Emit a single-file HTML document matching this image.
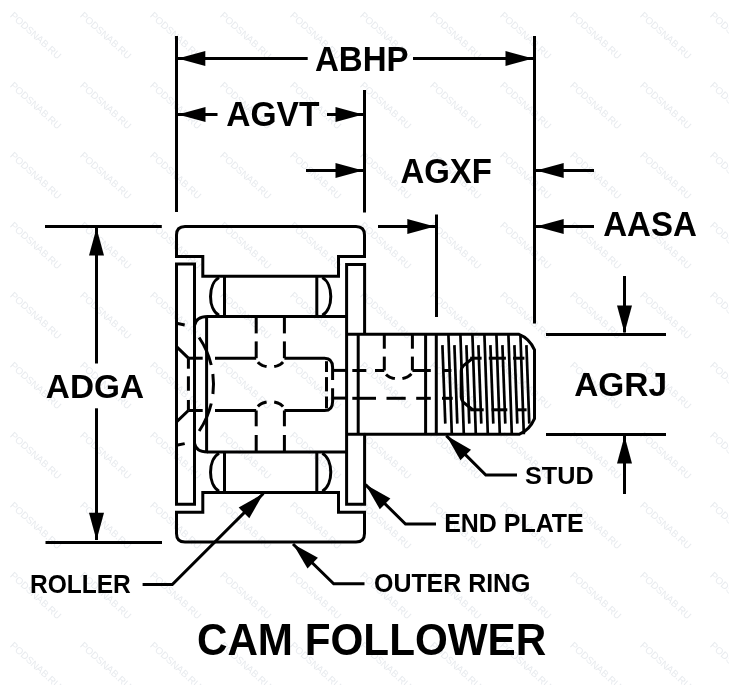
<!DOCTYPE html>
<html><head><meta charset="utf-8"><style>
html,body{margin:0;padding:0;background:#fff;}
svg{display:block;will-change:transform;}
text{font-family:"Liberation Sans",sans-serif;}
</style></head><body>
<svg width="729" height="685" viewBox="0 0 729 685">
<rect width="729" height="685" fill="#fff"/>
<g fill="#e7eaee" font-size="9.8" font-family="Liberation Sans"><text x="0" y="0" transform="translate(-60.6,-53.7) rotate(42)">PODSNAB.RU</text><text x="0" y="0" transform="translate(-60.6,16.3) rotate(42)">PODSNAB.RU</text><text x="0" y="0" transform="translate(-60.6,86.3) rotate(42)">PODSNAB.RU</text><text x="0" y="0" transform="translate(-60.6,156.3) rotate(42)">PODSNAB.RU</text><text x="0" y="0" transform="translate(-60.6,226.3) rotate(42)">PODSNAB.RU</text><text x="0" y="0" transform="translate(-60.6,296.3) rotate(42)">PODSNAB.RU</text><text x="0" y="0" transform="translate(-60.6,366.3) rotate(42)">PODSNAB.RU</text><text x="0" y="0" transform="translate(-60.6,436.3) rotate(42)">PODSNAB.RU</text><text x="0" y="0" transform="translate(-60.6,506.3) rotate(42)">PODSNAB.RU</text><text x="0" y="0" transform="translate(-60.6,576.3) rotate(42)">PODSNAB.RU</text><text x="0" y="0" transform="translate(-60.6,646.3) rotate(42)">PODSNAB.RU</text><text x="0" y="0" transform="translate(-60.6,716.3) rotate(42)">PODSNAB.RU</text><text x="0" y="0" transform="translate(9.4,-53.7) rotate(42)">PODSNAB.RU</text><text x="0" y="0" transform="translate(9.4,16.3) rotate(42)">PODSNAB.RU</text><text x="0" y="0" transform="translate(9.4,86.3) rotate(42)">PODSNAB.RU</text><text x="0" y="0" transform="translate(9.4,156.3) rotate(42)">PODSNAB.RU</text><text x="0" y="0" transform="translate(9.4,226.3) rotate(42)">PODSNAB.RU</text><text x="0" y="0" transform="translate(9.4,296.3) rotate(42)">PODSNAB.RU</text><text x="0" y="0" transform="translate(9.4,366.3) rotate(42)">PODSNAB.RU</text><text x="0" y="0" transform="translate(9.4,436.3) rotate(42)">PODSNAB.RU</text><text x="0" y="0" transform="translate(9.4,506.3) rotate(42)">PODSNAB.RU</text><text x="0" y="0" transform="translate(9.4,576.3) rotate(42)">PODSNAB.RU</text><text x="0" y="0" transform="translate(9.4,646.3) rotate(42)">PODSNAB.RU</text><text x="0" y="0" transform="translate(9.4,716.3) rotate(42)">PODSNAB.RU</text><text x="0" y="0" transform="translate(79.4,-53.7) rotate(42)">PODSNAB.RU</text><text x="0" y="0" transform="translate(79.4,16.3) rotate(42)">PODSNAB.RU</text><text x="0" y="0" transform="translate(79.4,86.3) rotate(42)">PODSNAB.RU</text><text x="0" y="0" transform="translate(79.4,156.3) rotate(42)">PODSNAB.RU</text><text x="0" y="0" transform="translate(79.4,226.3) rotate(42)">PODSNAB.RU</text><text x="0" y="0" transform="translate(79.4,296.3) rotate(42)">PODSNAB.RU</text><text x="0" y="0" transform="translate(79.4,366.3) rotate(42)">PODSNAB.RU</text><text x="0" y="0" transform="translate(79.4,436.3) rotate(42)">PODSNAB.RU</text><text x="0" y="0" transform="translate(79.4,506.3) rotate(42)">PODSNAB.RU</text><text x="0" y="0" transform="translate(79.4,576.3) rotate(42)">PODSNAB.RU</text><text x="0" y="0" transform="translate(79.4,646.3) rotate(42)">PODSNAB.RU</text><text x="0" y="0" transform="translate(79.4,716.3) rotate(42)">PODSNAB.RU</text><text x="0" y="0" transform="translate(149.4,-53.7) rotate(42)">PODSNAB.RU</text><text x="0" y="0" transform="translate(149.4,16.3) rotate(42)">PODSNAB.RU</text><text x="0" y="0" transform="translate(149.4,86.3) rotate(42)">PODSNAB.RU</text><text x="0" y="0" transform="translate(149.4,156.3) rotate(42)">PODSNAB.RU</text><text x="0" y="0" transform="translate(149.4,226.3) rotate(42)">PODSNAB.RU</text><text x="0" y="0" transform="translate(149.4,296.3) rotate(42)">PODSNAB.RU</text><text x="0" y="0" transform="translate(149.4,366.3) rotate(42)">PODSNAB.RU</text><text x="0" y="0" transform="translate(149.4,436.3) rotate(42)">PODSNAB.RU</text><text x="0" y="0" transform="translate(149.4,506.3) rotate(42)">PODSNAB.RU</text><text x="0" y="0" transform="translate(149.4,576.3) rotate(42)">PODSNAB.RU</text><text x="0" y="0" transform="translate(149.4,646.3) rotate(42)">PODSNAB.RU</text><text x="0" y="0" transform="translate(149.4,716.3) rotate(42)">PODSNAB.RU</text><text x="0" y="0" transform="translate(219.4,-53.7) rotate(42)">PODSNAB.RU</text><text x="0" y="0" transform="translate(219.4,16.3) rotate(42)">PODSNAB.RU</text><text x="0" y="0" transform="translate(219.4,86.3) rotate(42)">PODSNAB.RU</text><text x="0" y="0" transform="translate(219.4,156.3) rotate(42)">PODSNAB.RU</text><text x="0" y="0" transform="translate(219.4,226.3) rotate(42)">PODSNAB.RU</text><text x="0" y="0" transform="translate(219.4,296.3) rotate(42)">PODSNAB.RU</text><text x="0" y="0" transform="translate(219.4,366.3) rotate(42)">PODSNAB.RU</text><text x="0" y="0" transform="translate(219.4,436.3) rotate(42)">PODSNAB.RU</text><text x="0" y="0" transform="translate(219.4,506.3) rotate(42)">PODSNAB.RU</text><text x="0" y="0" transform="translate(219.4,576.3) rotate(42)">PODSNAB.RU</text><text x="0" y="0" transform="translate(219.4,646.3) rotate(42)">PODSNAB.RU</text><text x="0" y="0" transform="translate(219.4,716.3) rotate(42)">PODSNAB.RU</text><text x="0" y="0" transform="translate(289.4,-53.7) rotate(42)">PODSNAB.RU</text><text x="0" y="0" transform="translate(289.4,16.3) rotate(42)">PODSNAB.RU</text><text x="0" y="0" transform="translate(289.4,86.3) rotate(42)">PODSNAB.RU</text><text x="0" y="0" transform="translate(289.4,156.3) rotate(42)">PODSNAB.RU</text><text x="0" y="0" transform="translate(289.4,226.3) rotate(42)">PODSNAB.RU</text><text x="0" y="0" transform="translate(289.4,296.3) rotate(42)">PODSNAB.RU</text><text x="0" y="0" transform="translate(289.4,366.3) rotate(42)">PODSNAB.RU</text><text x="0" y="0" transform="translate(289.4,436.3) rotate(42)">PODSNAB.RU</text><text x="0" y="0" transform="translate(289.4,506.3) rotate(42)">PODSNAB.RU</text><text x="0" y="0" transform="translate(289.4,576.3) rotate(42)">PODSNAB.RU</text><text x="0" y="0" transform="translate(289.4,646.3) rotate(42)">PODSNAB.RU</text><text x="0" y="0" transform="translate(289.4,716.3) rotate(42)">PODSNAB.RU</text><text x="0" y="0" transform="translate(359.4,-53.7) rotate(42)">PODSNAB.RU</text><text x="0" y="0" transform="translate(359.4,16.3) rotate(42)">PODSNAB.RU</text><text x="0" y="0" transform="translate(359.4,86.3) rotate(42)">PODSNAB.RU</text><text x="0" y="0" transform="translate(359.4,156.3) rotate(42)">PODSNAB.RU</text><text x="0" y="0" transform="translate(359.4,226.3) rotate(42)">PODSNAB.RU</text><text x="0" y="0" transform="translate(359.4,296.3) rotate(42)">PODSNAB.RU</text><text x="0" y="0" transform="translate(359.4,366.3) rotate(42)">PODSNAB.RU</text><text x="0" y="0" transform="translate(359.4,436.3) rotate(42)">PODSNAB.RU</text><text x="0" y="0" transform="translate(359.4,506.3) rotate(42)">PODSNAB.RU</text><text x="0" y="0" transform="translate(359.4,576.3) rotate(42)">PODSNAB.RU</text><text x="0" y="0" transform="translate(359.4,646.3) rotate(42)">PODSNAB.RU</text><text x="0" y="0" transform="translate(359.4,716.3) rotate(42)">PODSNAB.RU</text><text x="0" y="0" transform="translate(429.4,-53.7) rotate(42)">PODSNAB.RU</text><text x="0" y="0" transform="translate(429.4,16.3) rotate(42)">PODSNAB.RU</text><text x="0" y="0" transform="translate(429.4,86.3) rotate(42)">PODSNAB.RU</text><text x="0" y="0" transform="translate(429.4,156.3) rotate(42)">PODSNAB.RU</text><text x="0" y="0" transform="translate(429.4,226.3) rotate(42)">PODSNAB.RU</text><text x="0" y="0" transform="translate(429.4,296.3) rotate(42)">PODSNAB.RU</text><text x="0" y="0" transform="translate(429.4,366.3) rotate(42)">PODSNAB.RU</text><text x="0" y="0" transform="translate(429.4,436.3) rotate(42)">PODSNAB.RU</text><text x="0" y="0" transform="translate(429.4,506.3) rotate(42)">PODSNAB.RU</text><text x="0" y="0" transform="translate(429.4,576.3) rotate(42)">PODSNAB.RU</text><text x="0" y="0" transform="translate(429.4,646.3) rotate(42)">PODSNAB.RU</text><text x="0" y="0" transform="translate(429.4,716.3) rotate(42)">PODSNAB.RU</text><text x="0" y="0" transform="translate(499.4,-53.7) rotate(42)">PODSNAB.RU</text><text x="0" y="0" transform="translate(499.4,16.3) rotate(42)">PODSNAB.RU</text><text x="0" y="0" transform="translate(499.4,86.3) rotate(42)">PODSNAB.RU</text><text x="0" y="0" transform="translate(499.4,156.3) rotate(42)">PODSNAB.RU</text><text x="0" y="0" transform="translate(499.4,226.3) rotate(42)">PODSNAB.RU</text><text x="0" y="0" transform="translate(499.4,296.3) rotate(42)">PODSNAB.RU</text><text x="0" y="0" transform="translate(499.4,366.3) rotate(42)">PODSNAB.RU</text><text x="0" y="0" transform="translate(499.4,436.3) rotate(42)">PODSNAB.RU</text><text x="0" y="0" transform="translate(499.4,506.3) rotate(42)">PODSNAB.RU</text><text x="0" y="0" transform="translate(499.4,576.3) rotate(42)">PODSNAB.RU</text><text x="0" y="0" transform="translate(499.4,646.3) rotate(42)">PODSNAB.RU</text><text x="0" y="0" transform="translate(499.4,716.3) rotate(42)">PODSNAB.RU</text><text x="0" y="0" transform="translate(569.4,-53.7) rotate(42)">PODSNAB.RU</text><text x="0" y="0" transform="translate(569.4,16.3) rotate(42)">PODSNAB.RU</text><text x="0" y="0" transform="translate(569.4,86.3) rotate(42)">PODSNAB.RU</text><text x="0" y="0" transform="translate(569.4,156.3) rotate(42)">PODSNAB.RU</text><text x="0" y="0" transform="translate(569.4,226.3) rotate(42)">PODSNAB.RU</text><text x="0" y="0" transform="translate(569.4,296.3) rotate(42)">PODSNAB.RU</text><text x="0" y="0" transform="translate(569.4,366.3) rotate(42)">PODSNAB.RU</text><text x="0" y="0" transform="translate(569.4,436.3) rotate(42)">PODSNAB.RU</text><text x="0" y="0" transform="translate(569.4,506.3) rotate(42)">PODSNAB.RU</text><text x="0" y="0" transform="translate(569.4,576.3) rotate(42)">PODSNAB.RU</text><text x="0" y="0" transform="translate(569.4,646.3) rotate(42)">PODSNAB.RU</text><text x="0" y="0" transform="translate(569.4,716.3) rotate(42)">PODSNAB.RU</text><text x="0" y="0" transform="translate(639.4,-53.7) rotate(42)">PODSNAB.RU</text><text x="0" y="0" transform="translate(639.4,16.3) rotate(42)">PODSNAB.RU</text><text x="0" y="0" transform="translate(639.4,86.3) rotate(42)">PODSNAB.RU</text><text x="0" y="0" transform="translate(639.4,156.3) rotate(42)">PODSNAB.RU</text><text x="0" y="0" transform="translate(639.4,226.3) rotate(42)">PODSNAB.RU</text><text x="0" y="0" transform="translate(639.4,296.3) rotate(42)">PODSNAB.RU</text><text x="0" y="0" transform="translate(639.4,366.3) rotate(42)">PODSNAB.RU</text><text x="0" y="0" transform="translate(639.4,436.3) rotate(42)">PODSNAB.RU</text><text x="0" y="0" transform="translate(639.4,506.3) rotate(42)">PODSNAB.RU</text><text x="0" y="0" transform="translate(639.4,576.3) rotate(42)">PODSNAB.RU</text><text x="0" y="0" transform="translate(639.4,646.3) rotate(42)">PODSNAB.RU</text><text x="0" y="0" transform="translate(639.4,716.3) rotate(42)">PODSNAB.RU</text><text x="0" y="0" transform="translate(709.4,-53.7) rotate(42)">PODSNAB.RU</text><text x="0" y="0" transform="translate(709.4,16.3) rotate(42)">PODSNAB.RU</text><text x="0" y="0" transform="translate(709.4,86.3) rotate(42)">PODSNAB.RU</text><text x="0" y="0" transform="translate(709.4,156.3) rotate(42)">PODSNAB.RU</text><text x="0" y="0" transform="translate(709.4,226.3) rotate(42)">PODSNAB.RU</text><text x="0" y="0" transform="translate(709.4,296.3) rotate(42)">PODSNAB.RU</text><text x="0" y="0" transform="translate(709.4,366.3) rotate(42)">PODSNAB.RU</text><text x="0" y="0" transform="translate(709.4,436.3) rotate(42)">PODSNAB.RU</text><text x="0" y="0" transform="translate(709.4,506.3) rotate(42)">PODSNAB.RU</text><text x="0" y="0" transform="translate(709.4,576.3) rotate(42)">PODSNAB.RU</text><text x="0" y="0" transform="translate(709.4,646.3) rotate(42)">PODSNAB.RU</text><text x="0" y="0" transform="translate(709.4,716.3) rotate(42)">PODSNAB.RU</text></g>
<g stroke="#000" fill="none" stroke-linecap="butt" stroke-linejoin="miter">
<line x1="176.5" y1="36" x2="176.5" y2="212" stroke-width="3"/>
<line x1="364.5" y1="90" x2="364.5" y2="212.5" stroke-width="3"/>
<line x1="534.5" y1="36" x2="534.5" y2="323.5" stroke-width="3"/>
<line x1="436.5" y1="214.5" x2="436.5" y2="317" stroke-width="3"/>
<line x1="178" y1="58.5" x2="307.7" y2="58.5" stroke-width="3"/>
<polygon points="177.8,58.5 205.3,51.0 205.3,66.0" fill="#000" stroke="none"/>
<line x1="413" y1="58.5" x2="533" y2="58.5" stroke-width="3"/>
<polygon points="533.0,58.5 505.5,66.0 505.5,51.0" fill="#000" stroke="none"/>
<line x1="178" y1="114.5" x2="217.5" y2="114.5" stroke-width="3"/>
<polygon points="178.0,114.5 205.5,107.0 205.5,122.0" fill="#000" stroke="none"/>
<line x1="327" y1="114.5" x2="363" y2="114.5" stroke-width="3"/>
<polygon points="363.0,114.5 335.5,122.0 335.5,107.0" fill="#000" stroke="none"/>
<line x1="306" y1="170.5" x2="363" y2="170.5" stroke-width="3"/>
<polygon points="363.0,170.5 335.5,178.0 335.5,163.0" fill="#000" stroke="none"/>
<line x1="378" y1="226.5" x2="435" y2="226.5" stroke-width="3"/>
<polygon points="434.8,226.5 407.3,234.0 407.3,219.0" fill="#000" stroke="none"/>
<line x1="536" y1="170.5" x2="594" y2="170.5" stroke-width="3"/>
<polygon points="536.2,170.5 563.7,163.0 563.7,178.0" fill="#000" stroke="none"/>
<line x1="536" y1="226.5" x2="594" y2="226.5" stroke-width="3"/>
<polygon points="536.2,226.5 563.7,219.0 563.7,234.0" fill="#000" stroke="none"/>
<line x1="45" y1="226.5" x2="161.8" y2="226.5" stroke-width="3"/>
<line x1="45.5" y1="542.5" x2="162" y2="542.5" stroke-width="3"/>
<line x1="96.5" y1="228" x2="96.5" y2="363.5" stroke-width="3"/>
<polygon points="96.5,228.0 104.0,255.5 89.0,255.5" fill="#000" stroke="none"/>
<line x1="96.5" y1="408.3" x2="96.5" y2="540" stroke-width="3"/>
<polygon points="96.5,540.3 89.0,512.8 104.0,512.8" fill="#000" stroke="none"/>
<line x1="546" y1="334.5" x2="666" y2="334.5" stroke-width="3"/>
<line x1="546" y1="434.4" x2="666" y2="434.4" stroke-width="3"/>
<line x1="624.5" y1="276" x2="624.5" y2="332.5" stroke-width="3"/>
<polygon points="624.5,333.0 617.0,305.5 632.0,305.5" fill="#000" stroke="none"/>
<line x1="624.5" y1="436" x2="624.5" y2="494" stroke-width="3"/>
<polygon points="624.5,436.0 632.0,463.5 617.0,463.5" fill="#000" stroke="none"/>
<polyline points="446.3,435.6 485.8,475.1 517,475.1" stroke-width="3" fill="none"/>
<polygon points="446.3,435.6 471.0,449.7 460.4,460.3" fill="#000" stroke="none"/>
<polyline points="365.5,484.6 405.5,524 436,524" stroke-width="3" fill="none"/>
<polygon points="365.5,484.6 390.4,498.6 379.8,509.2" fill="#000" stroke="none"/>
<polyline points="293,544 333.7,583.7 364.5,583.7" stroke-width="3" fill="none"/>
<polygon points="293.0,544.0 317.9,557.8 307.5,568.6" fill="#000" stroke="none"/>
<polyline points="263.4,493.5 172.3,584.6 142.6,584.6" stroke-width="3" fill="none"/>
<polygon points="263.4,493.5 249.3,518.2 238.7,507.6" fill="#000" stroke="none"/>
<path d="M176.5,256.4 V235 Q176.5,226.5 185,226.5 H356 Q364.5,226.5 364.5,235 V256.4 H338.5 V276.2 H202.8 V256.4 Z" stroke-width="3" fill="none"/>
<path d="M176.5,512.2 V533.6 Q176.5,542.1 185,542.1 H356 Q364.5,542.1 364.5,533.6 V512.2 H338.5 V492.4 H202.8 V512.2 Z" stroke-width="3" fill="none"/>
<polygon points="176.5,264.1 194.5,264.1 194.5,504.3 176.5,504.3" stroke-width="3" fill="none"/>
<polyline points="364.6,334 364.6,264.5 346.6,264.5 346.6,504.3 364.6,504.3 364.6,434.6" stroke-width="3" fill="none"/>
<line x1="224.5" y1="276.3" x2="224.5" y2="316.5" stroke-width="3"/>
<line x1="316.8" y1="276.3" x2="316.8" y2="316.5" stroke-width="3"/>
<path d="M219,277.50 C207.7,284.00 207.7,308.80 219,315.30" stroke-width="3" fill="none"/>
<path d="M322.3,277.50 C333.6,284.00 333.6,308.80 322.3,315.30" stroke-width="3" fill="none"/>
<line x1="224.5" y1="452.1" x2="224.5" y2="492.4" stroke-width="3"/>
<line x1="316.8" y1="452.1" x2="316.8" y2="492.4" stroke-width="3"/>
<path d="M219,453.30 C207.7,459.80 207.7,484.70 219,491.20" stroke-width="3" fill="none"/>
<path d="M322.3,453.30 C333.6,459.80 333.6,484.70 322.3,491.20" stroke-width="3" fill="none"/>
<line x1="207" y1="316.5" x2="346.6" y2="316.5" stroke-width="3"/>
<line x1="207" y1="452" x2="346.6" y2="452" stroke-width="3"/>
<line x1="206.6" y1="316.5" x2="206.6" y2="452" stroke-width="3"/>
<path d="M194.5,325.5 Q196,316.8 207.5,316.6" stroke-width="3" fill="none"/>
<path d="M194.5,443.3 Q196,452 207.5,452.1" stroke-width="3" fill="none"/>
<line x1="188.4" y1="358.2" x2="202.7" y2="358.2" stroke-width="3"/>
<line x1="215" y1="358.2" x2="256.2" y2="358.2" stroke-width="3"/>
<line x1="188.4" y1="410.5" x2="202.7" y2="410.5" stroke-width="3"/>
<line x1="215" y1="410.5" x2="256.2" y2="410.5" stroke-width="3"/>
<path d="M284.4,358.2 H324.6 Q332.6,358.2 332.6,367.4 V380" stroke-width="3" fill="none"/>
<path d="M284.4,410.5 H324.6 Q332.6,410.5 332.6,401.4 V388.3" stroke-width="3" fill="none"/>
<line x1="256.2" y1="316.5" x2="256.2" y2="333.4" stroke-width="3"/>
<line x1="256.2" y1="341.4" x2="256.2" y2="358.2" stroke-width="3"/>
<line x1="256.2" y1="410.5" x2="256.2" y2="426.3" stroke-width="3"/>
<line x1="256.2" y1="435" x2="256.2" y2="452" stroke-width="3"/>
<line x1="284.4" y1="316.5" x2="284.4" y2="333.4" stroke-width="3"/>
<line x1="284.4" y1="341.4" x2="284.4" y2="358.2" stroke-width="3"/>
<line x1="284.4" y1="410.5" x2="284.4" y2="426.3" stroke-width="3"/>
<line x1="284.4" y1="435" x2="284.4" y2="452" stroke-width="3"/>
<polyline points="257.9,362.12 258.36,362.64 258.89,363.15 259.46,363.63 260.09,364.09 260.77,364.52 261.5,364.91 262.26,365.28 263.07,365.61 263.91,365.91 264.78,366.17 265.68,366.39 266.6,366.57" stroke-width="3" fill="none"/>
<polyline points="274.2,366.57 275.14,366.39 276.05,366.16 276.94,365.89 277.8,365.59 278.61,365.25 279.39,364.87 280.12,364.46 280.81,364.02 281.44,363.55 282.02,363.05 282.54,362.53 283.0,361.99" stroke-width="3" fill="none"/>
<polyline points="257.9,406.48 258.36,405.96 258.89,405.45 259.46,404.97 260.09,404.51 260.77,404.08 261.5,403.69 262.26,403.32 263.07,402.99 263.91,402.69 264.78,402.43 265.68,402.21 266.6,402.03" stroke-width="3" fill="none"/>
<polyline points="274.2,402.03 275.14,402.21 276.05,402.44 276.94,402.71 277.8,403.01 278.61,403.35 279.39,403.73 280.12,404.14 280.81,404.58 281.44,405.05 282.02,405.55 282.54,406.07 283.0,406.61" stroke-width="3" fill="none"/>
<path d="M199.09,337.5 A83.2,83.2 0 0 1 211.23,365" stroke-width="3" fill="none"/>
<path d="M212.86,374 A83.2,83.2 0 0 1 212.93,394" stroke-width="3" fill="none"/>
<path d="M211.25,403.5 A83.2,83.2 0 0 1 199.16,431" stroke-width="3" fill="none"/>
<line x1="188.4" y1="358.2" x2="188.4" y2="368.7" stroke-width="3"/>
<line x1="188.4" y1="376.3" x2="188.4" y2="390.7" stroke-width="3"/>
<line x1="188.4" y1="400" x2="188.4" y2="410.5" stroke-width="3"/>
<line x1="176.5" y1="346.7" x2="188.4" y2="358.2" stroke-width="3"/>
<line x1="188.4" y1="410.5" x2="176.5" y2="421.9" stroke-width="3"/>
<line x1="176.5" y1="323.3" x2="184.7" y2="325" stroke-width="3"/>
<line x1="176.5" y1="445.3" x2="184.7" y2="443.6" stroke-width="3"/>
<line x1="326.5" y1="361.2" x2="326.5" y2="372" stroke-width="3"/>
<line x1="326.5" y1="377.1" x2="326.5" y2="391.4" stroke-width="3"/>
<line x1="326.5" y1="396.5" x2="326.5" y2="408.3" stroke-width="3"/>
<line x1="332.6" y1="370.4" x2="346.6" y2="370.4" stroke-width="3"/>
<line x1="332.6" y1="398.1" x2="346.6" y2="398.1" stroke-width="3"/>
<path d="M346.6,334.3 H519 Q529.5,338.3 534.5,349.8 V418.7 Q529.5,430.2 519.5,434.2 H346.6" stroke-width="3" fill="none"/>
<line x1="358.2" y1="334.3" x2="358.2" y2="434.2" stroke-width="3"/>
<line x1="425.6" y1="334.3" x2="425.6" y2="434.2" stroke-width="3"/>
<line x1="436.3" y1="334.3" x2="436.3" y2="434.2" stroke-width="3"/>
<line x1="352.3" y1="370.5" x2="366.3" y2="370.5" stroke-width="3"/>
<line x1="375" y1="370.5" x2="384.3" y2="370.5" stroke-width="3"/>
<line x1="412.4" y1="370.5" x2="430.8" y2="370.5" stroke-width="3"/>
<line x1="442" y1="370.5" x2="451.4" y2="370.5" stroke-width="3"/>
<line x1="352.3" y1="398.3" x2="376" y2="398.3" stroke-width="3"/>
<line x1="386.5" y1="398.3" x2="405.7" y2="398.3" stroke-width="3"/>
<line x1="416.2" y1="398.3" x2="430.8" y2="398.3" stroke-width="3"/>
<line x1="442" y1="398.3" x2="452.7" y2="398.3" stroke-width="3"/>
<line x1="384.3" y1="334.3" x2="384.3" y2="348.7" stroke-width="3"/>
<line x1="384.3" y1="356.6" x2="384.3" y2="370.5" stroke-width="3"/>
<line x1="412.4" y1="334.3" x2="412.4" y2="348.7" stroke-width="3"/>
<line x1="412.4" y1="356.6" x2="412.4" y2="370.5" stroke-width="3"/>
<polyline points="386.0,374.46 386.49,374.95 387.04,375.42 387.64,375.87 388.29,376.29 388.98,376.69 389.73,377.05 390.51,377.39 391.33,377.69 392.18,377.96 393.06,378.19 393.97,378.39 394.9,378.55" stroke-width="3" fill="none"/>
<polyline points="402.4,378.45 403.37,378.25 404.32,378.01 405.24,377.73 406.12,377.42 406.95,377.06 407.74,376.67 408.49,376.25 409.17,375.79 409.8,375.31 410.36,374.8 410.87,374.27 411.3,373.72" stroke-width="3" fill="none"/>
<line x1="448.4" y1="334.3" x2="451.8" y2="434.2" stroke-width="2.7"/>
<line x1="460.4" y1="334.3" x2="463.8" y2="434.2" stroke-width="2.7"/>
<line x1="472.4" y1="334.3" x2="475.8" y2="434.2" stroke-width="2.7"/>
<line x1="484.4" y1="334.3" x2="487.8" y2="434.2" stroke-width="2.7"/>
<line x1="496.4" y1="334.3" x2="499.8" y2="434.2" stroke-width="2.7"/>
<line x1="508.4" y1="334.3" x2="511.8" y2="434.2" stroke-width="2.7"/>
<line x1="520.4" y1="334.3" x2="523.8" y2="434.2" stroke-width="2.7"/>
<line x1="442.4" y1="345.1" x2="445.3" y2="423.6" stroke-width="2.7"/>
<line x1="454.4" y1="345.1" x2="457.3" y2="423.6" stroke-width="2.7"/>
<line x1="466.4" y1="345.1" x2="469.3" y2="423.6" stroke-width="2.7"/>
<line x1="478.4" y1="345.1" x2="481.3" y2="423.6" stroke-width="2.7"/>
<line x1="490.4" y1="345.1" x2="493.3" y2="423.6" stroke-width="2.7"/>
<line x1="502.4" y1="345.1" x2="505.3" y2="423.6" stroke-width="2.7"/>
<line x1="514.4" y1="345.1" x2="517.3" y2="423.6" stroke-width="2.7"/>
<line x1="526.4" y1="345.1" x2="529.3" y2="423.6" stroke-width="2.7"/>
<line x1="470.2" y1="358.2" x2="481.6" y2="358.2" stroke-width="3"/>
<line x1="488.8" y1="358.2" x2="505.9" y2="358.2" stroke-width="3"/>
<line x1="513" y1="358.2" x2="524.4" y2="358.2" stroke-width="3"/>
<line x1="470.2" y1="409.8" x2="483.7" y2="409.8" stroke-width="3"/>
<line x1="491.6" y1="409.8" x2="507.3" y2="409.8" stroke-width="3"/>
<line x1="516" y1="409.8" x2="526.6" y2="409.8" stroke-width="3"/>
<path d="M472.7,358.2 L463.5,365.5 Q461.2,368 461.2,371 V397 Q461.2,400 463.5,402.5 L472.7,409.8" stroke-width="3" fill="none"/>
<text transform="translate(315.00,70.80) scale(0.9601,1)" font-size="34.45" font-weight="bold" stroke="none" fill="#000">ABHP</text>
<text transform="translate(226.20,126.00) scale(0.9497,1)" font-size="35.32" font-weight="bold" stroke="none" fill="#000">AGVT</text>
<text transform="translate(400.50,182.80) scale(0.9390,1)" font-size="35.05" font-weight="bold" stroke="none" fill="#000">AGXF</text>
<text transform="translate(603.20,235.80) scale(0.9605,1)" font-size="34.45" font-weight="bold" stroke="none" fill="#000">AASA</text>
<text transform="translate(45.80,397.90) scale(0.9805,1)" font-size="34.02" font-weight="bold" stroke="none" fill="#000">ADGA</text>
<text transform="translate(574.20,396.00) scale(0.9821,1)" font-size="34.02" font-weight="bold" stroke="none" fill="#000">AGRJ</text>
<text transform="translate(525.00,483.60) scale(1.0211,1)" font-size="24.71" font-weight="bold" stroke="none" fill="#000">STUD</text>
<text transform="translate(444.20,531.70) scale(0.9973,1)" font-size="25.02" font-weight="bold" stroke="none" fill="#000">END PLATE</text>
<text transform="translate(30.00,592.70) scale(0.9700,1)" font-size="25.30" font-weight="bold" stroke="none" fill="#000">ROLLER</text>
<text transform="translate(374.00,591.70) scale(0.9799,1)" font-size="25.46" font-weight="bold" stroke="none" fill="#000">OUTER RING</text>
<text transform="translate(196.90,655.20) scale(0.9386,1)" font-size="44.98" font-weight="bold" stroke="none" fill="#000">CAM FOLLOWER</text>
</g>
</svg>
</body></html>
